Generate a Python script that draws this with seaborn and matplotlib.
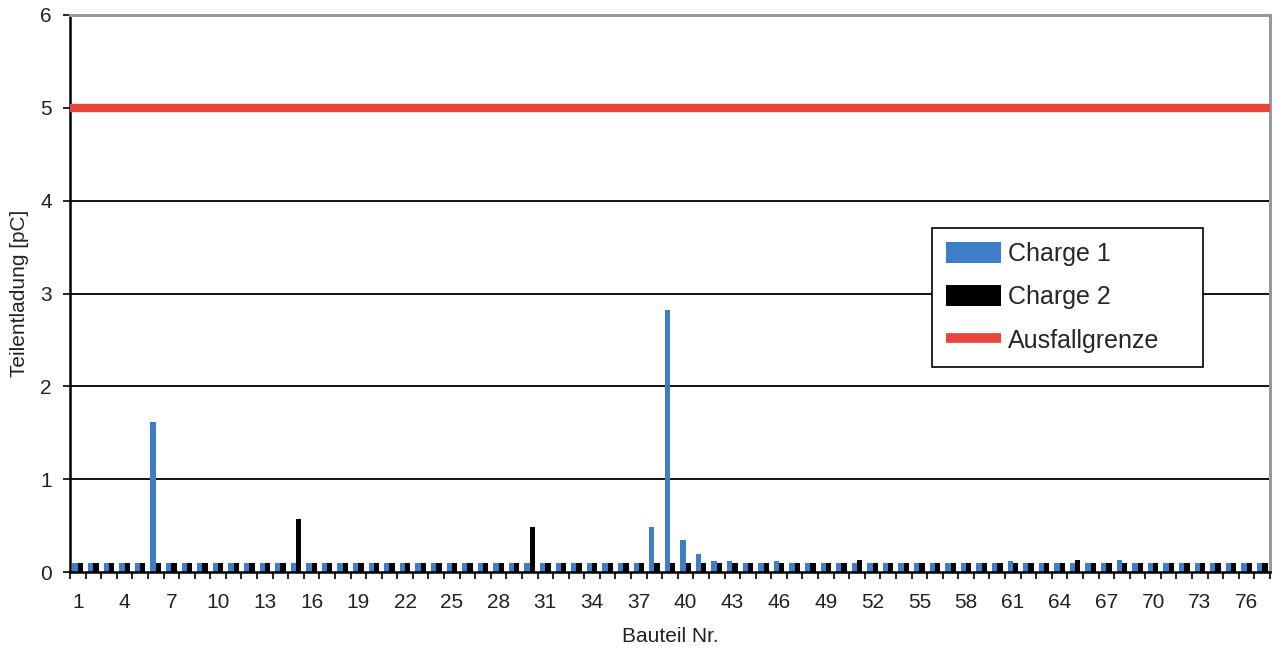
import numpy as np
import pandas as pd
import seaborn as sns
import matplotlib.pyplot as plt
from matplotlib.patches import Patch
from matplotlib.lines import Line2D

# Bauteil numbers and measured partial discharge per batch
bauteil = list(range(1, 78))

charge1 = [0.1] * 77
charge2 = [0.1] * 77

# Charge 1 outliers (Bauteil Nr. -> pC)
charge1_peaks = {6: 1.62, 38: 0.48, 39: 2.82, 40: 0.35, 41: 0.19,
                 42: 0.12, 43: 0.12, 46: 0.12, 61: 0.12, 68: 0.13}
# Charge 2 outliers
charge2_peaks = {15: 0.57, 30: 0.48, 51: 0.13, 65: 0.13}

for k, v in charge1_peaks.items():
    charge1[k - 1] = v
for k, v in charge2_peaks.items():
    charge2[k - 1] = v

ausfallgrenze = 5.0
tick_labels = [str(n) if (n - 1) % 3 == 0 else "" for n in bauteil]

blue = "#3f7ec6"
red = "#e8463a"

df = pd.DataFrame({
    "Bauteil": bauteil * 2,
    "pC": charge1 + charge2,
    "Charge": ["Charge 1"] * 77 + ["Charge 2"] * 77,
})

sns.set_style("white")
plt.rcParams["font.family"] = ["Liberation Sans", "DejaVu Sans"]
plt.rcParams["xtick.bottom"] = True
plt.rcParams["ytick.left"] = True

fig = plt.figure(figsize=(12.8, 6.59), dpi=100)
ax = fig.add_axes([70 / 1280, 87 / 659, 1200 / 1280, 557 / 659])

sns.barplot(data=df, x="Bauteil", y="pC", hue="Charge",
            palette={"Charge 1": blue, "Charge 2": "black"},
            width=0.68, ax=ax, legend=False, saturation=1, linewidth=0)

ax.axhline(ausfallgrenze, color=red, lw=6, zorder=3, solid_capstyle="butt")

ax.set_ylim(0, 6)
ax.set_xlim(-0.5, len(bauteil) - 0.5)
ax.set_yticks(range(0, 7))
for y in range(1, 5):
    ax.axhline(y, color="black", lw=1.3, zorder=0)

ax.set_xticks(range(len(bauteil)))
ax.set_xticklabels(tick_labels)
ax.set_xticks(np.arange(-0.5, len(bauteil)), minor=True)
ax.tick_params(axis="x", which="major", bottom=True, length=0, labelsize=15, pad=15,
               labelcolor="#222222")
ax.tick_params(axis="x", which="minor", bottom=True, length=5, width=1.2,
               color="black", direction="out")
ax.tick_params(axis="y", which="major", left=True, length=5, width=1.2, labelsize=15,
               color="black", labelcolor="#222222", direction="out", pad=8)

for side in ["top", "right"]:
    ax.spines[side].set_color("#999999")
    ax.spines[side].set_linewidth(2.2)
for side in ["left", "bottom"]:
    ax.spines[side].set_color("black")
    ax.spines[side].set_linewidth(1.8)

ax.set_xlabel("Bauteil Nr.", fontsize=15, color="#222222", labelpad=11)
ax.set_ylabel("Teilentladung [pC]", fontsize=15, color="#222222", labelpad=8)

handles = [Patch(facecolor=blue, edgecolor="none", label="Charge 1"),
           Patch(facecolor="black", edgecolor="none", label="Charge 2"),
           Line2D([], [], color=red, lw=7, solid_capstyle="butt", label="Ausfallgrenze")]
leg = ax.legend(handles=handles, loc="upper left",
                bbox_to_anchor=(0.7183, 0.373, 0.2258, 0.245), mode="expand",
                fontsize=18, frameon=True, fancybox=False, framealpha=1,
                edgecolor="black", handlelength=2.2, handleheight=0.92,
                labelspacing=0.78, borderpad=0.55, borderaxespad=0,
                handletextpad=0.3)
leg.get_frame().set_linewidth(1.2)

fig.savefig("out.png", dpi=100)
